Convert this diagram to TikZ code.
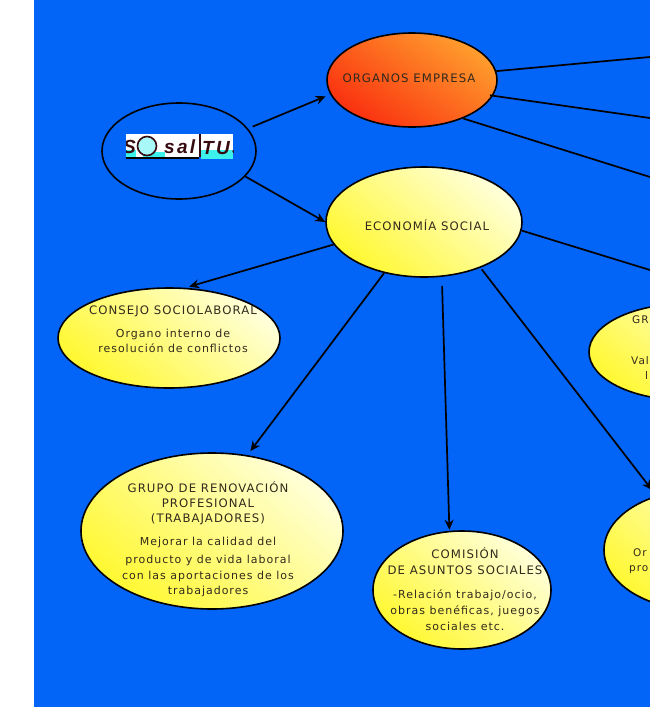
\documentclass[tikz,border=0pt]{standalone}
\usepackage{fontspec}
\usetikzlibrary{shapes.geometric,arrows.meta}
\setmainfont{DejaVu Sans}
\newfontfamily\wide[LetterSpace=9]{DejaVu Sans}
\newfontfamily\logofont[LetterSpace=12]{Liberation Sans}
\newcommand{\low}{\fontsize{11}{15}\selectfont}
\definecolor{bgblue}{RGB}{3,100,248}
\definecolor{paley}{RGB}{255,255,218}
\definecolor{deepy}{RGB}{255,248,50}
\definecolor{ink}{RGB}{50,42,28}
\definecolor{hoty}{RGB}{255,158,45}
\definecolor{hotr}{RGB}{250,48,15}
\definecolor{logoc}{RGB}{60,240,235}
\definecolor{logok}{RGB}{55,10,15}
\tikzset{
  x=1pt,y=-1pt,
  bub/.style={ellipse,draw=black,line width=1.6pt,inner sep=0pt,top color=paley,bottom color=deepy,shading angle=-40},
  hot/.style={ellipse,draw=black,line width=1.6pt,inner sep=0pt,top color=hoty,bottom color=hotr,shading angle=-35},
  txt/.style={font=\wide\fontsize{11.7}{15}\selectfont,text=ink,align=center,inner sep=0pt},
  edgetxt/.style={font=\wide\fontsize{10.5}{15}\selectfont,text=ink,align=left,inner sep=0pt,anchor=north west},
  conn/.style={line width=1.7pt,draw=black},
  arr/.style={conn,-{Stealth[length=10pt,width=9pt]}},
  lgt/.style={font=\logofont\bfseries\itshape\fontsize{19}{19}\selectfont,inner sep=0pt,text=logok}
}
\begin{document}
\begin{tikzpicture}
\useasboundingbox (0,0) rectangle (650,707);
\begin{scope}
\clip (0,0) rectangle (650,707);
\fill[white] (0,0) rectangle (650,707);
\fill[bgblue] (34,0) rectangle (650,707);
\node[ellipse,draw=black,line width=1.6pt,minimum width=154pt,minimum height=96pt,inner sep=0pt] (logo) at (179,151) {};
\node[hot,minimum width=170pt,minimum height=94pt] (organos) at (412,80) {};
\node[bub,minimum width=196pt,minimum height=110pt] (eco) at (424,222) {};
\node[bub,minimum width=222pt,minimum height=100pt] (consejo) at (169,338) {};
\node[bub,minimum width=262pt,minimum height=156pt] (grupo) at (212,531) {};
\node[bub,minimum width=178pt,minimum height=118pt] (comision) at (462,590) {};
\node[bub,minimum width=190pt,minimum height=96pt] (gr) at (684,352) {};
\node[bub,minimum width=190pt,minimum height=120pt] (or) at (699,550) {};
\coordinate (offa) at (650,57);
\coordinate (offb) at (650,118);
\coordinate (offc) at (650,177);
\coordinate (offd) at (650,270);
\coordinate (offe) at (652,490);
\draw[arr,shorten <=5pt,shorten >=5pt] (logo.18) -- (organos.190);
\draw[arr] (logo.-21.5) -- (eco.180);
\draw[arr,shorten >=4pt] (eco.194.5) -- (consejo.72);
\draw[arr,shorten >=5pt] (eco.232.8) -- (grupo.65.5);
\draw[arr,shorten <=9pt,shorten >=1pt] (eco.-72) -- (comision.102);
\draw[arr,shorten <=2pt] (eco.-39) -- (offe);
\draw[conn] (eco.-5) -- (offd);
\draw[conn] (organos.6) -- (offa);
\draw[conn,shorten <=-3pt] (organos.-11) -- (offb);
\draw[conn] (organos.-37.4) -- (offc);
\node[txt] (torg) at (409,78) {ORGANOS EMPRESA};
\node[txt] (teco) at (427,225) {ECONOMÍA SOCIAL};
\node[txt] (tcon) at (173,329) {CONSEJO SOCIOLABORAL\\[8pt]\low Organo interno de\\\low resolución de conflictos};
\node[txt,anchor=north] (tgru) at (208,481) {GRUPO DE RENOVACIÓN\\PROFESIONAL\\(TRABAJADORES)\\[8pt]\low Mejorar la calidad del\\[3pt]\low producto y de vida laboral\\[1pt]\low con las aportaciones de los\\\low trabajadores};
\node[txt,anchor=north] (tcom) at (465,547) {COMISIÓN\\[1pt]DE ASUNTOS SOCIALES\\[9pt]\low -Relación trabajo/ocio,\\[1pt]\low obras benéficas, juegos\\[1pt]\low sociales etc.};
\node[edgetxt] (tgr1) at (632,316) {GR};
\node[edgetxt] (tgr2) at (631,356) {Val};
\node[edgetxt] (tgr3) at (645,371) {l};
\node[edgetxt] (tor1) at (633,549) {Or};
\node[edgetxt] (tor2) at (629,565) {pro};
% logo
\begin{scope}
\clip (126,134) rectangle (233,159);
\fill[white] (126,134) rectangle (199,157);
\fill[logoc] (126,150) rectangle (136,157);
\fill[logoc] (143,152) rectangle (165,157);
\fill[black] (126,157) rectangle (199,159);
\fill[logok] (199,134) rectangle (200.5,157);
\fill[white] (201,134) rectangle (233,150);
\fill[logoc] (201,150) rectangle (233,159);
\draw[logok,line width=1.6pt,fill=logoc!45!white] (147,146) circle (9.5);
\node[lgt,anchor=base east] (lgs) at (136,153) {S};
\node[lgt,anchor=base west] (lgsal) at (164,153) {sal};
\node[lgt,anchor=base west] (lgtu) at (202,154) {TUS};
\end{scope}
\end{scope}
\end{tikzpicture}
\end{document}
